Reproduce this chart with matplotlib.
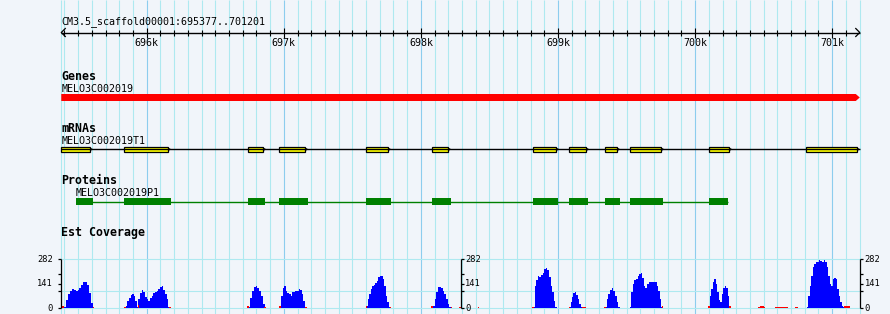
import numpy as np
import matplotlib.pyplot as plt
from matplotlib.patches import Rectangle, Polygon

# region shown
REGION = "CM3.5_scaffold00001:695377..701201"
START, END = 695377, 701201
KB_TICKS = [696000, 697000, 698000, 699000, 700000, 701000]
KB_LABELS = ["696k", "697k", "698k", "699k", "700k", "701k"]

GENE_NAME = "MELO3C002019"
MRNA_NAME = "MELO3C002019T1"
PROT_NAME = "MELO3C002019P1"

# mRNA exons
EXON_STARTS = [695377, 695834, 696739, 696965, 697600, 698081, 698818, 699081, 699344, 699526, 700103, 700810]
EXON_ENDS = [695586, 696155, 696849, 697155, 697760, 698198, 698986, 699205, 699431, 699752, 700248, 701180]

# protein (CDS) blocks
CDS_STARTS = [695484, 695834, 696739, 696965, 697600, 698081, 698818, 699081, 699344, 699526, 700103]
CDS_ENDS = [695606, 696177, 696863, 697174, 697782, 698220, 699000, 699219, 699453, 699767, 700241]

# EST coverage (blue), read peak by peak
PEAK_STARTS = [695397, 695847, 695940, 696739, 696969, 697600, 698088, 698818, 699081, 699343, 699522, 700098, 700816]
PEAK_ENDS = [695608, 695940, 696170, 696863, 697166, 697778, 698220, 698993, 699176, 699453, 699766, 700258, 701090]
PEAK_VALUES = [
    [10, 50, 80, 100, 111, 104, 100, 103, 118, 135, 150, 149, 135, 90, 30],
    [15, 40, 60, 78, 83, 70, 40, 10],
    [54, 88, 105, 92, 67, 54, 44, 58, 73, 88, 96, 102, 111, 125, 127, 107, 82, 54, 6],
    [10, 60, 100, 125, 129, 118, 100, 70, 25],
    [15, 73, 115, 127, 102, 88, 82, 73, 92, 96, 98, 102, 111, 105, 82, 44, 6],
    [15, 54, 82, 111, 130, 136, 144, 159, 178, 188, 184, 169, 130, 73, 35, 6],
    [15, 54, 92, 121, 121, 115, 102, 82, 54, 25, 6],
    [6, 131, 160, 185, 179, 189, 204, 228, 232, 218, 179, 131, 92, 44, 6],
    [6, 35, 63, 88, 92, 77, 54, 25, 6],
    [6, 54, 82, 107, 115, 102, 73, 35, 10],
    [6, 92, 140, 160, 170, 185, 199, 203, 175, 130, 115, 140, 150, 153, 150, 153, 150, 130, 102, 54, 6],
    [15, 70, 110, 150, 167, 140, 95, 45, 35, 80, 115, 129, 115, 70, 10],
    [6, 73, 130, 188, 236, 255, 265, 269, 280, 275, 269, 280, 265, 236, 188, 140, 130, 169, 173, 169, 111, 73, 35, 15, 6],
]

# low coverage bits (red)
RED_STARTS = [695375, 695605, 695838, 695933, 696166, 696735, 696856, 696965, 697158, 697596, 697771, 698077,
              698216, 698278, 698417, 698811, 699077, 699172, 699335, 699758, 700095, 700248, 700350, 700460,
              700470, 700584, 700730, 701087]
RED_ENDS = [695397, 695616, 695849, 695944, 696177, 696746, 696870, 696976, 697169, 697607, 697782, 698088,
            698227, 698293, 698427, 698822, 699088, 699205, 699347, 699769, 700106, 700263, 700357, 700511,
            700500, 700677, 700752, 701130]
RED_VALUES = [14, 8, 10, 17, 8, 14, 8, 14, 8, 14, 10, 12,
              10, 5, 5, 8, 8, 10, 10, 12, 12, 15, 4, 7,
              15, 6, 6, 12]

COV_MAX = 282
COV_TICKS = [0, 141, 282]
COV_MINOR = [100, 200]

# pixel layout
W, H = 890, 314
PX_PER_BP = 0.1371
X0 = 696000 - 146.7 / PX_PER_BP
X1 = X0 + W / PX_PER_BP
BP = 1 / PX_PER_BP

BG = '#f1f5fa'
GRID = '#aee9f0'
GRID_KB = '#8ccdee'
MONO = 'DejaVu Sans Mono'

fig = plt.figure(figsize=(W / 100, H / 100), dpi=100, facecolor=BG)
ax = fig.add_axes([0, 0, 1, 1])
ax.set_xlim(X0, X1)
ax.set_ylim(H, 0)
ax.axis('off')

# grid
minor = np.arange(695400, END + 1, 100)
ax.vlines([START] + [m for m in minor if m % 1000], 0, H, color=GRID, lw=0.8, zorder=0)
ax.vlines(KB_TICKS, 0, H, color=GRID_KB, lw=0.8, zorder=0)

# ruler
ax.text(START, 24.5, REGION, fontsize=7.2, family=MONO, va='baseline')
ax.hlines(32.5, START, END, color='k', lw=1)
ax.vlines([m for m in minor if m % 1000 and m < END - 50], 30, 35.5, color='k', lw=0.8)
ax.vlines(KB_TICKS, 27.5, 37.5, color='k', lw=0.8)
ax.plot([START + 4 * BP, START, START + 4 * BP], [28.5, 32.5, 36.5], color='k', lw=0.9)
ax.plot([END - 4 * BP, END, END - 4 * BP], [28.5, 32.5, 36.5], color='k', lw=0.9)
for t, lab in zip(KB_TICKS, KB_LABELS):
    ax.text(t, 46, lab, fontsize=7.2, family=MONO, ha='center', va='baseline')

# Genes track
ax.text(START, 80, "Genes", fontsize=8.4, family=MONO, weight='bold', va='baseline')
ax.text(START, 91.7, GENE_NAME, fontsize=7.2, family=MONO, va='baseline')
tip = 4 * BP
ax.add_patch(Polygon([(START, 94), (END - tip, 94), (END, 97.5), (END - tip, 101), (START, 101)],
                     closed=True, facecolor='#ff0000', edgecolor='none'))

# mRNAs track
ax.text(START, 131.7, "mRNAs", fontsize=8.4, family=MONO, weight='bold', va='baseline')
ax.text(START, 144, MRNA_NAME, fontsize=7.2, family=MONO, va='baseline')
ax.hlines(149.3, EXON_STARTS[0], END, color='k', lw=1)
for s, e in zip(EXON_STARTS, EXON_ENDS):
    ax.add_patch(Polygon([(e, 148), (e + 2.5 * BP, 149.3), (e, 150.6)], closed=True,
                         facecolor='#ffff00', edgecolor='k', lw=0.6))
    ax.add_patch(Rectangle((s, 146.6), e - s, 5.2, facecolor='#ffff00', edgecolor='k', lw=0.9))

# Proteins track
ax.text(START, 184, "Proteins", fontsize=8.4, family=MONO, weight='bold', va='baseline')
ax.text(CDS_STARTS[0], 196, PROT_NAME, fontsize=7.2, family=MONO, va='baseline')
ax.hlines(202, CDS_STARTS[0], CDS_ENDS[-1], color='#008000', lw=1)
for s, e in zip(CDS_STARTS, CDS_ENDS):
    ax.add_patch(Rectangle((s, 198.3), e - s, 6.9, facecolor='#008000', edgecolor='none'))

# Est Coverage track
ax.text(START, 236, "Est Coverage", fontsize=8.4, family=MONO, weight='bold', va='baseline')

cov = fig.add_axes([0, (H - 308.3) / H, 1, 49 / H])
cov.set_xlim(X0, X1)
cov.set_ylim(0, COV_MAX)
cov.axis('off')
cov.patch.set_alpha(0)
cov.hlines([0, 100, COV_MAX], START, END, color=GRID, lw=0.8, zorder=0, clip_on=False)

for s, e, vals in zip(PEAK_STARTS, PEAK_ENDS, PEAK_VALUES):
    edges = np.linspace(s, e, len(vals) + 1)
    cov.stairs(vals, edges, fill=True, color='#0000ff', lw=0, zorder=2)
cov.bar(RED_STARTS, RED_VALUES, width=np.array(RED_ENDS) - np.array(RED_STARTS), align='edge',
        color='#ff0000', lw=0, zorder=3)

# three value axes: left, middle, right
tick = 3 * BP
for x, side in [(START, -1), ((START + END) / 2, 1), (END, 1)]:
    cov.vlines(x, 0, COV_MAX, color='k', lw=0.9, clip_on=False, zorder=4)
    cov.hlines(COV_TICKS + COV_MINOR, x, x + side * tick, color='k', lw=0.9, clip_on=False, zorder=4)
    for v in COV_TICKS:
        cov.annotate(str(v), xy=(x, v), xytext=(side * 3.5 if side > 0 else -6, 0),
                     textcoords='offset points', fontsize=6.3, family=MONO,
                     ha='left' if side > 0 else 'right', va='center', annotation_clip=False, zorder=4)

fig.savefig('out.png', dpi=100, facecolor=BG)
